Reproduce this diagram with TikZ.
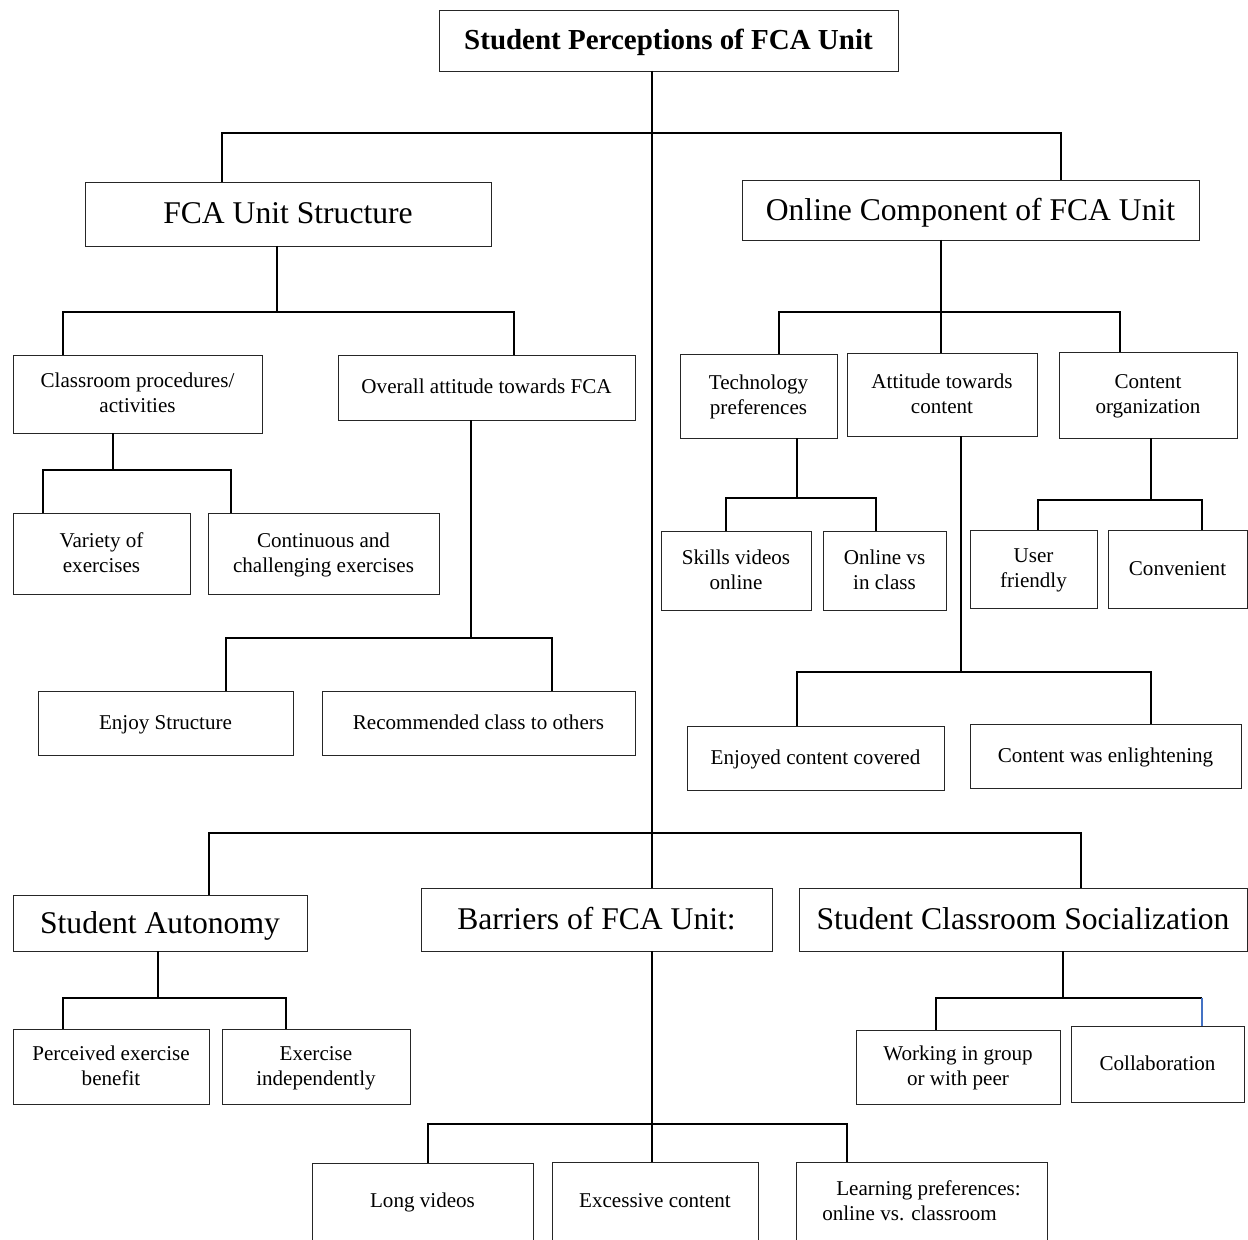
\documentclass[tikz,border=0pt]{standalone}
\usepackage{fontspec}
\setmainfont{Liberation Serif}
\usepackage{tikz}
\tikzset{
	box/.style={draw=black!85, line width=0.5pt, inner sep=0pt, outer sep=0pt, align=center, text depth=1pt, font=\fontsize{12}{14.2}\selectfont},
	big/.style={box, font=\fontsize{18}{22}\selectfont},
	wh/.style 2 args={minimum width=#1*0.02cm, minimum height=#2*0.02cm},
	link/.style={line width=1pt}
}

\begin{document}
\begin{tikzpicture}[x=0.02cm,y=-0.02cm]
	\useasboundingbox (0,0) rectangle (1248,1240);
	\node[box, wh={459}{61}, font=\bfseries\fontsize{16.5}{20}\selectfont] (title) at (668.5,40.5) {Student Perceptions of FCA Unit};
	\node[big, wh={406}{64}] (fcs) at (288,214) {FCA Unit Structure};
	\node[big, wh={457}{60}] (onl) at (970.5,210) {Online Component of FCA Unit};
	\node[box, wh={249}{78}] (cls) at (137.5,394) {Classroom procedures/\\activities};
	\node[box, wh={297}{65}] (ova) at (486.5,387.5) {Overall attitude towards FCA};
	\node[box, wh={177}{81}] (var) at (101.5,553.5) {Variety of\\exercises};
	\node[box, wh={231}{81}] (con) at (323.5,553.5) {Continuous and\\challenging exercises};
	\node[box, wh={255}{64}] (enj) at (165.5,723) {Enjoy Structure};
	\node[box, wh={313}{64}] (rec) at (478.5,723) {Recommended class to others};
	\node[box, wh={157}{84}] (tec) at (758.5,396) {Technology\\preferences};
	\node[box, wh={190}{83}] (att) at (942,394.5) {Attitude towards\\content};
	\node[box, wh={178}{86}] (org) at (1148,395) {Content\\organization};
	\node[box, wh={150}{79}] (ski) at (736,570.5) {Skills videos\\online};
	\node[box, wh={123}{79}] (ovi) at (884.5,570.5) {Online vs\\in class};
	\node[box, wh={127}{78}] (usr) at (1033.5,569) {User\\friendly};
	\node[box, wh={139}{78}] (cnv) at (1177.5,569) {Convenient};
	\node[box, wh={257}{64}] (ejc) at (815.5,758) {Enjoyed content covered};
	\node[box, wh={271}{64}] (enl) at (1105.5,756) {Content was enlightening};
	\node[big, wh={294}{56}] (aut) at (160,923) {Student Autonomy};
	\node[big, wh={351}{63}] (bar) at (596.5,919.5) {Barriers of FCA Unit:};
	\node[big, wh={448}{63}] (soc) at (1023,919.5) {Student Classroom Socialization};
	\node[box, wh={196}{75}] (per) at (111,1066.5) {Perceived exercise\\benefit};
	\node[box, wh={188}{75}] (ind) at (316,1066.5) {Exercise\\independently};
	\node[box, wh={204}{74}] (grp) at (958,1067) {Working in group\\or with peer};
	\node[box, wh={173}{76}] (col) at (1157.5,1064) {Collaboration};
	\node[box, wh={221}{77}] (lng) at (422.5,1201.5) {Long videos};
	\node[box, wh={206}{78}] (exc) at (655,1201) {Excessive content};
	\node[box, wh={251}{78}, align=left] (lrn) at (921.5,1201) {\hspace*{8pt}Learning preferences:\\online vs. classroom};
	\draw[link] (title.south -| 652,0) -- (652,133) -| (fcs.north -| 222,0);
	\draw[link] (652,133) -| (onl.north -| 1061,0);
	\draw[link] (652,133) -- (652,833) -| (aut.north -| 209,0);
	\draw[link] (652,833) -- (bar.north -| 652,0);
	\draw[link] (652,833) -| (soc.north -| 1081,0);
	\draw[link] (fcs.south -| 277,0) -- (277,312) -| (cls.north -| 63,0);
	\draw[link] (277,312) -| (ova.north -| 514,0);
	\draw[link] (cls.south -| 113,0) -- (113,470) -| (var.north -| 43,0);
	\draw[link] (113,470) -| (con.north -| 231,0);
	\draw[link] (ova.south -| 471,0) -- (471,638) -| (enj.north -| 226,0);
	\draw[link] (471,638) -| (rec.north -| 552,0);
	\draw[link] (onl.south -| 941,0) -- (941,312) -| (tec.north -| 779,0);
	\draw[link] (941,312) -- (att.north -| 941,0);
	\draw[link] (941,312) -| (org.north -| 1120,0);
	\draw[link] (tec.south -| 797,0) -- (797,498) -| (ski.north -| 726,0);
	\draw[link] (797,498) -| (ovi.north -| 876,0);
	\draw[link] (att.south -| 961,0) -- (961,672) -| (ejc.north -| 797,0);
	\draw[link] (961,672) -| (enl.north -| 1151,0);
	\draw[link] (org.south -| 1151,0) -- (1151,500) -| (usr.north -| 1038,0);
	\draw[link] (1151,500) -| (cnv.north -| 1202,0);
	\draw[link] (aut.south -| 158,0) -- (158,998) -| (per.north -| 63,0);
	\draw[link] (158,998) -| (ind.north -| 286,0);
	\draw[link] (bar.south -| 652,0) -- (652,1124) -| (lng.north -| 428,0);
	\draw[link] (652,1124) -- (exc.north -| 652,0);
	\draw[link] (652,1124) -| (lrn.north -| 847,0);
	\draw[link] (soc.south -| 1063,0) -- (1063,998) -| (grp.north -| 936,0);
	\draw[link] (1063,998) -- (1202,998);
	\draw[line width=0.8pt, color={rgb,255:red,68;green,114;blue,196}] (1202,998) -- (col.north -| 1202,0);
\end{tikzpicture}
\end{document}
